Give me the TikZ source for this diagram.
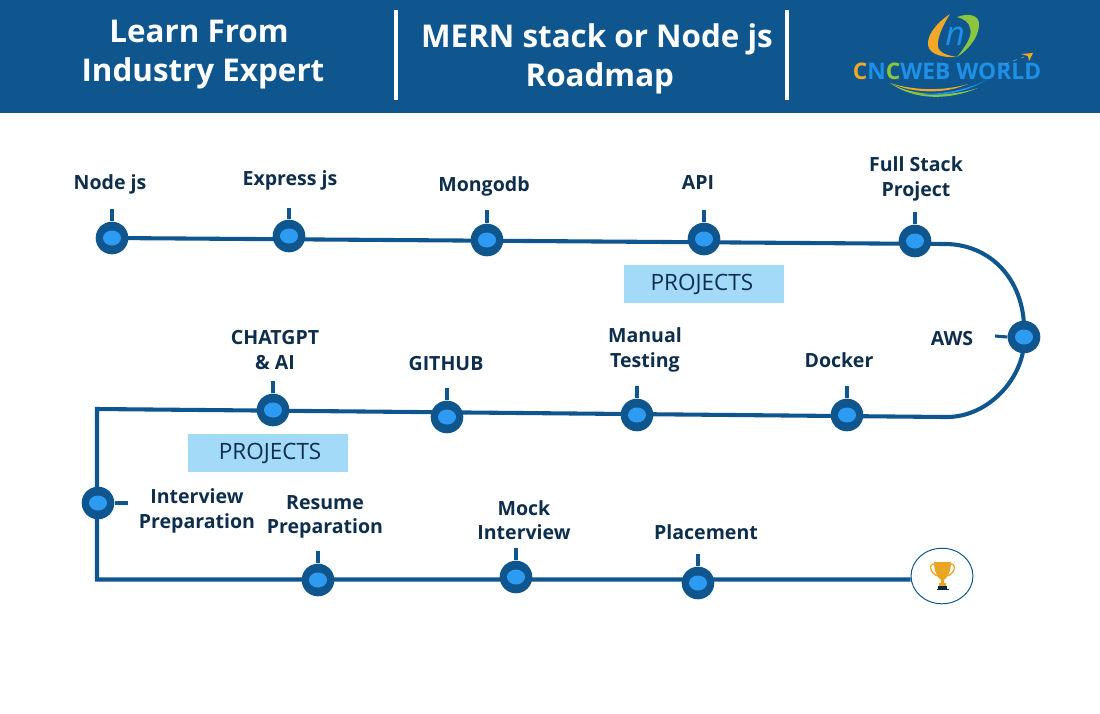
\documentclass[tikz,border=0pt]{standalone}
\usepackage{fontspec}
\setmainfont{Open Sans}
\usetikzlibrary{positioning,shapes.geometric}
\definecolor{roadblue}{HTML}{0F568F}
\definecolor{dotblue}{HTML}{2E9BF3}
\definecolor{inkblue}{HTML}{0E2E4C}
\definecolor{boxblue}{HTML}{A3DAF8}
\definecolor{logoorange}{HTML}{F0A826}
\definecolor{logogreen}{HTML}{8CC63F}
\definecolor{logoblue}{HTML}{1E90E6}
\definecolor{cupgold}{HTML}{E8A623}
\tikzset{
  road/.style={draw=roadblue,line width=2.9pt},
  tick/.style={draw=roadblue,line width=2.2pt},
  stopnode/.style={circle,fill=roadblue,inner sep=0pt,minimum size=23.2pt},
  stoptext/.style={font=\fontsize{13.9}{17.2}\selectfont\bfseries,text=inkblue,align=center,inner sep=0pt},
  headtext/.style={font=\fontsize{22.3}{27.7}\selectfont\bfseries,text=white,align=center,inner sep=0pt},
  projectbox/.style={fill=boxblue,text=inkblue,minimum width=113.8pt,minimum height=27.7pt,inner sep=0pt,font=\fontsize{16}{17}\selectfont},
}
\begin{document}
\begin{tikzpicture}[x=0.025cm,y=-0.025cm]
  \useasboundingbox (0,0) rectangle (1100,713);
  \fill[white] (0,0) rectangle (1100,713);

  % header band
  \fill[roadblue] (0,0) rectangle (1100,113);
  \draw[white,line width=2.2pt] (396,10) -- (396,100);
  \draw[white,line width=2.2pt] (787,10) -- (787,100);
  \node[headtext] (learn) at (203,55) {Learn From\hspace*{5.7pt}\\Industry Expert};
  \node[headtext] (title) at (597,59) {MERN stack or Node js\\\hspace*{4pt}Roadmap};

  % logo
  \fill[logoorange] (950,14) .. controls (935,24) and (927,36) .. (928,45) .. controls (929,55) and (945,58) .. (957,57) .. controls (945,55) and (936,52) .. (938,42) .. controls (939,33) and (945,22) .. (950,14) -- cycle;
  \fill[logogreen] (957,17) .. controls (968,13) and (980,14) .. (979,26) .. controls (978,38) and (968,50) .. (957,57) .. controls (965,47) and (973,36) .. (970,28) .. controls (969,22) and (964,19) .. (957,17) -- cycle;
  \node[inner sep=0pt,text=logoblue,font=\fontsize{24}{24}\selectfont\itshape] (logon) at (955,36) {n};
  \node[inner sep=0pt,font=\fontsize{16.2}{17}\selectfont\bfseries] (logotext) at (947,71) {\textcolor{logoorange}{C}\textcolor{logoblue}{N}\textcolor{logogreen}{C}\textcolor{logoblue}{WEB WORLD}};
  \fill[logogreen] (890,83) .. controls (915,101) and (950,100) .. (978,88) .. controls (950,97) and (915,97) .. (890,83) -- cycle;
  \fill[logoorange] (890,83) .. controls (915,94) and (945,94) .. (968,84) .. controls (945,91) and (915,91) .. (890,83) -- cycle;
  \fill[logoblue] (920,94) .. controls (945,97) and (965,92) .. (987,80) .. controls (965,90) and (945,94) .. (920,94) -- cycle;
  \fill[logoorange] (1021,54) -- (1033,53) -- (1029,61) -- (1028,56) -- cycle;
  \draw[logoblue!70,line width=0.4pt,dashed] (1005,64) -- (1024,57);

  % stops
  \foreach \name/\x/\y in {nodejs/112/238,express/289/236,mongodb/487/240,api/704/239,fullstack/915/241,
      aws/1024/337,docker/847/415,testing/637/415,github/447/417,chatgpt/273/410,
      interview/98/503,resume/318/580,mock/516/577,placement/698/583}
    \node[stopnode] (\name) at (\x,\y) {};

  \coordinate (roadtop) at (945,244);
  \coordinate (roadmid) at (945,417);
  \coordinate (cornertop) at (97,409);
  \coordinate (cornerlow) at (97,579.5);
  \node[ellipse,draw=roadblue,line width=0.7pt,fill=white,minimum width=44pt,minimum height=39.5pt,inner sep=0pt] (trophy) at (942,576) {};
  \coordinate (roadend) at (trophy.west |- cornerlow);

  % road
  \draw[road] (nodejs.center) -- (roadtop) .. controls (990,244) and (1027,280) .. (aws.center);
  \draw[road] (aws.center) .. controls (1026,375) and (990,418) .. (roadmid) -- (cornertop) -- (cornerlow) -- (roadend);

  % stop markers
  \foreach \name in {nodejs,express,mongodb,api,fullstack,aws,docker,testing,github,chatgpt,interview,resume,mock,placement}
    \fill[dotblue] (\name) ellipse (9 and 7.5);

  % ticks
  \foreach \name/\x/\y in {nodejs/112/209,express/289/208,mongodb/487/210,api/704/210,fullstack/915/212,
      docker/847/386,testing/637/386,github/447/388,chatgpt/273/381,resume/318/551,mock/516/548,placement/698/554}
    \draw[tick] (\name.north) -- (\x,\y);
  \draw[tick] (aws.west) -- (995,336);
  \draw[tick] (interview.east) -- (128,503);

  % labels
  \node[stoptext] (lnodejs) at (110,184) {Node js};
  \node[stoptext] (lexpress) at (290,180) {Express js};
  \node[stoptext] (lmongodb) at (484,186) {Mongodb};
  \node[stoptext] (lapi) at (698,182) {API};
  \node[stoptext] (lfull) at (916,179) {Full Stack\\Project};
  \node[stoptext] (laws) at (952,339) {AWS};
  \node[stoptext] (ldocker) at (839,360) {Docker};
  \node[stoptext] (ltesting) at (645,350) {Manual\\Testing};
  \node[stoptext] (lgithub) at (446,364) {GITHUB};
  \node[stoptext] (lchat) at (275,350) {CHATGPT\\\& AI};
  \node[stoptext] (linter) at (197,511) {Interview\\Preparation};
  \node[stoptext] (lresume) at (325,517) {Resume\\Preparation};
  \node[stoptext] (lmock) at (524,520) {Mock\\Interview};
  \node[stoptext] (lplace) at (706,532) {Placement};

  % project boxes
  \node[projectbox] (projecta) at (704,284) {\raisebox{-1.4pt}{PROJECTS}\hspace*{3pt}};
  \node[projectbox] (projectb) at (268,453) {\hspace*{3pt}\raisebox{-1.4pt}{PROJECTS}};

  % trophy cup
  \draw[cupgold,line width=0.9pt] (935,564) .. controls (928,563) and (930,574) .. (938,576);
  \draw[cupgold,line width=0.9pt] (950,564) .. controls (957,563) and (955,574) .. (947,576);
  \fill[cupgold] (934,562) -- (951,562) .. controls (951,572) and (947,578) .. (944,580) -- (944,584) -- (941,584) -- (941,580) .. controls (938,578) and (934,572) .. (934,562) -- cycle;
  \fill[cupgold] (939,583) rectangle (946,586);
  \fill[inkblue!85!black] (938,586) rectangle (947,589);
  \fill[inkblue!85!black] (936.5,589) rectangle (948.5,590);
\end{tikzpicture}
\end{document}
